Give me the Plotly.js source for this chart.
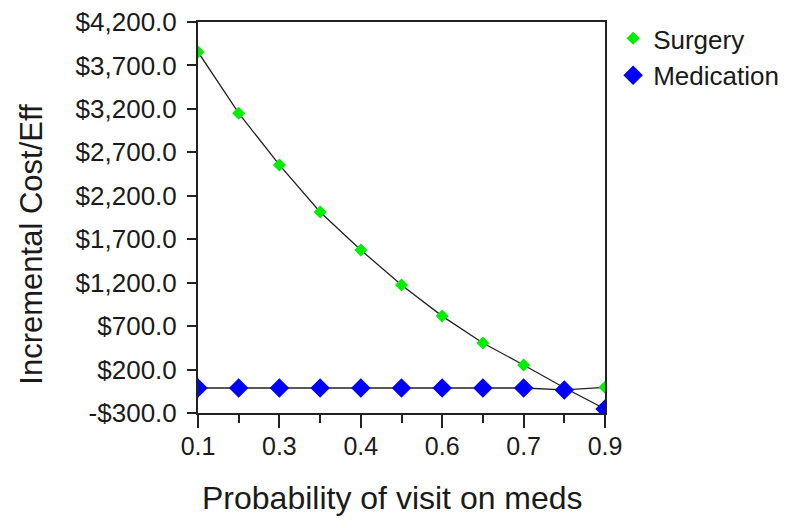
<!DOCTYPE html>
<html>
<head>
<meta charset="utf-8">
<script src="https://cdn.plot.ly/plotly-3.0.1.min.js"></script>
<style>
html,body{margin:0;padding:0;background:#fff;}
#chart{width:800px;height:528px;}
</style>
</head>
<body>
<div id="chart"></div>
<script>
// Data
const probVisit = [0.1, 0.18, 0.26, 0.34, 0.42, 0.5, 0.58, 0.66, 0.74, 0.82, 0.9];
const surgery = [3855, 3150, 2555, 2014, 1576, 1174, 815, 505, 253, -10, -5];
const medication = [-12, -12, -12, -12, -12, -12, -12, -12, -12, -35, -253];
const seriesNames = ["Surgery", "Medication"];
const xTitle = "Probability of visit on meds";
const yTitle = "Incremental Cost/Eff";

// Tick labels
const xMajorVals = [0.1, 0.26, 0.42, 0.58, 0.74, 0.9];
const xMajorText = ["0.1", "0.3", "0.4", "0.6", "0.7", "0.9"];
const xMinorVals = [0.18, 0.34, 0.5, 0.66, 0.82];
const yTickVals = [-300, 200, 700, 1200, 1700, 2200, 2700, 3200, 3700, 4200];
const yTickText = ["-$300.0", "$200.0", "$700.0", "$1,200.0", "$1,700.0", "$2,200.0", "$2,700.0", "$3,200.0", "$3,700.0", "$4,200.0"];

// Connecting lines as drawn by the source software (ranking swaps at the last point)
const last = probVisit.length - 1;
const upperLine = surgery.slice(0, last).concat([medication[last]]);
const flatLine = medication.slice(0, last).concat([surgery[last]]);

const FONT = "Arial, 'Liberation Sans', sans-serif";
const TXT = "#1a1a1a";

const traces = [
  {x: probVisit, y: upperLine, mode: "lines", line: {color: "#222", width: 1.3}, showlegend: false, hoverinfo: "skip"},
  {x: probVisit, y: flatLine, mode: "lines", line: {color: "#222", width: 1.3}, showlegend: false, hoverinfo: "skip"},
  {x: probVisit, y: surgery, name: seriesNames[0], mode: "markers", type: "scatter",
   marker: {symbol: "diamond", size: 10, color: "#00ee00"}},
  {x: probVisit, y: medication, name: seriesNames[1], mode: "markers", type: "scatter",
   marker: {symbol: "diamond", size: 15, color: "#0000ff"}}
];

const layout = {
  width: 800, height: 528,
  margin: {l: 198, r: 195, t: 22, b: 115},
  paper_bgcolor: "#fff", plot_bgcolor: "#fff",
  font: {family: FONT, color: TXT, size: 25},
  showlegend: true,
  legend: {x: 1.02, xanchor: "left", y: 1.018, yanchor: "top",
           font: {family: FONT, size: 26, color: TXT}, tracegroupgap: 0,
           bgcolor: "rgba(0,0,0,0)", itemsizing: "trace"},
  xaxis: {
    range: [0.1, 0.9], showgrid: false, zeroline: false,
    showline: true, linecolor: "#222", linewidth: 2, mirror: true,
    tickmode: "array", tickvals: xMajorVals, ticktext: xMajorText,
    ticks: "outside", ticklen: 13, tickwidth: 2, tickcolor: "#222",
    ticklabelstandoff: -3,
    tickfont: {family: FONT, size: 25, color: TXT},
    minor: {tickmode: "array", tickvals: xMinorVals, ticks: "outside", ticklen: 8, tickwidth: 2, tickcolor: "#222", showgrid: false}
  },
  yaxis: {
    range: [-300, 4200], showgrid: false, zeroline: false,
    showline: true, linecolor: "#222", linewidth: 2, mirror: true,
    tickmode: "array", tickvals: yTickVals, ticktext: yTickText,
    ticks: "outside", ticklen: 9, tickwidth: 2, tickcolor: "#222",
    ticklabelstandoff: 5,
    tickfont: {family: FONT, size: 26, color: TXT}
  },
  annotations: [
    {text: xTitle, xref: "paper", yref: "paper", x: 0.479, y: -0.217, xanchor: "center", yanchor: "middle",
     showarrow: false, font: {family: FONT, size: 32, color: TXT}},
    {text: yTitle, xref: "paper", yref: "paper", x: -0.408, y: 0.433, xanchor: "center", yanchor: "middle",
     textangle: -90, showarrow: false, font: {family: FONT, size: 31, color: TXT}}
  ]
};

Plotly.newPlot("chart", traces, layout, {displayModeBar: false, staticPlot: true});
</script>
</body>
</html>
